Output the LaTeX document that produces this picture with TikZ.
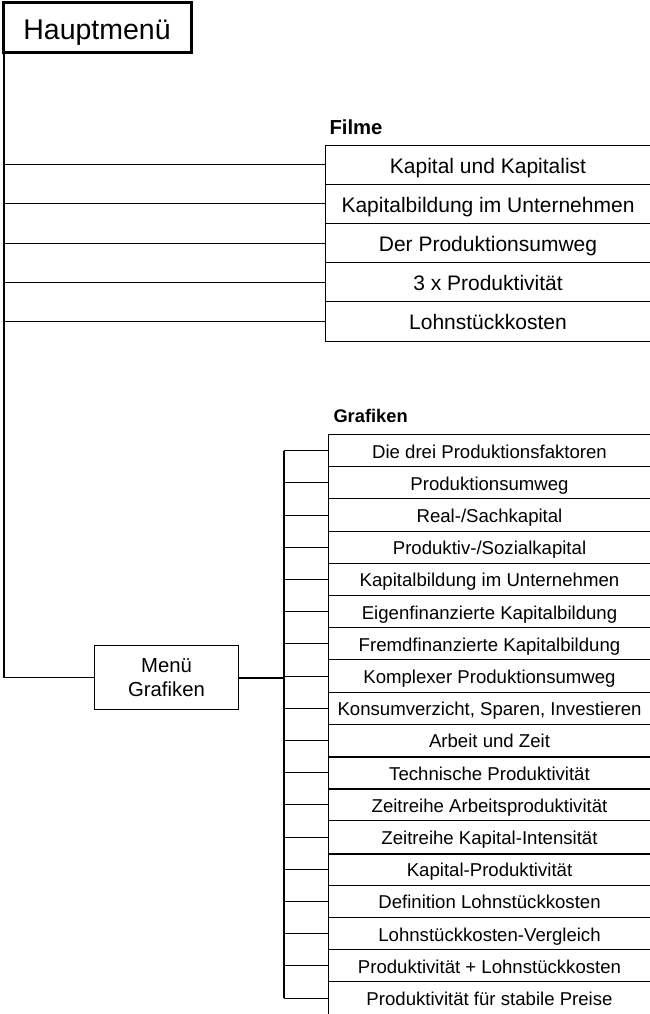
\documentclass[tikz,border=0pt]{standalone}
\usepackage{fontspec}
\setmainfont{Liberation Sans}
\begin{document}
\begin{tikzpicture}[x=1pt,y=-1pt,
  line width=1pt,
  hauptbox/.style={draw,line width=3pt,minimum width=188pt,minimum height=50pt,inner sep=0pt,text height=24.2pt,text depth=1.4pt,font=\fontsize{28.5}{32}\selectfont},
  filmbox/.style={draw,minimum width=326pt,minimum height=39.2pt,inner sep=0pt,text height=17.85pt,text depth=1.05pt,font=\fontsize{21}{24}\selectfont},
  grafbox/.style={draw,minimum width=323pt,minimum height=32.2pt,inner sep=0pt,text height=15.8pt,text depth=0.93pt,font=\fontsize{18.6}{22}\selectfont},
  menubox/.style={draw,minimum width=144.5pt,minimum height=63.5pt,inner sep=0pt,align=center,font=\fontsize{20.3}{23.5}\selectfont},
  headlabel/.style={anchor=west,inner sep=0pt},
  conn/.style={draw,line width=1pt}
]
\useasboundingbox (0,0) rectangle (650,1014);

% Hauptmenue
\node[hauptbox] (haupt) at (97,28) {Hauptmenü};

% Filme
\node[headlabel,font=\bfseries\fontsize{20.3}{24}\selectfont] (filme) at (329,127) {Filme};
\foreach \i/\t in {1/{Kapital und Kapitalist},2/{Kapitalbildung im Unternehmen},3/{Der Produktionsumweg},4/{3 x Produktivität},5/{Lohnstückkosten}}{
  \node[filmbox] (f\i) at (488,{145+39.2*(\i-0.5)}) {\t};
}

% Grafiken
\node[headlabel,font=\bfseries\fontsize{18.3}{22}\selectfont] (graf) at (333,416) {Grafiken};
\foreach \i/\t in {1/{Die drei Produktionsfaktoren},2/{Produktionsumweg},3/{Real-/Sachkapital},4/{Produktiv-/Sozialkapital},5/{Kapitalbildung im Unternehmen},6/{Eigenfinanzierte Kapitalbildung},7/{Fremdfinanzierte Kapitalbildung},8/{Komplexer Produktionsumweg},9/{Konsumverzicht, Sparen, Investieren},10/{Arbeit und Zeit},11/{Technische Produktivität},12/{Zeitreihe Arbeitsproduktivität},13/{Zeitreihe Kapital-Intensität},14/{Kapital-Produktivität},15/{Definition Lohnstückkosten},16/{Lohnstückkosten-Vergleich},17/{Produktivität + Lohnstückkosten},18/{Produktivität für stabile Preise}}{
  \node[grafbox] (g\i) at (489.5,{434.5+32.2*(\i-0.5)}) {\t};
}
% slightly heavier separators
\draw[line width=2pt] (g10.south west) -- (g10.south east);
\draw[line width=2pt] (g11.south west) -- (g11.south east);
\draw[line width=2pt] (g13.south west) -- (g13.south east);

% Menue Grafiken
\node[menubox] (menu) at (166.5,677.5) {Menü\\Grafiken};

% trunk
\coordinate (trtop) at (4,53);
\coordinate (trbot) at (4,677.5);
\draw[line width=1.5pt] (haupt.south west -| trtop) -- (trbot);
\draw[conn] (trbot) -- (menu.west);
\foreach \i in {1,...,5}{
  \draw[conn] (f\i.west -| trtop) -- (f\i.west);
}

% Grafiken bus
\coordinate (bus) at (283.5,677.5);
\draw[line width=2pt] (menu.east) -- (bus);
\draw[line width=2pt] (g1.west -| bus) -- (g18.west -| bus);
\foreach \i in {1,...,18}{
  \draw[conn] (g\i.west -| bus) -- (g\i.west);
}
\end{tikzpicture}
\end{document}
